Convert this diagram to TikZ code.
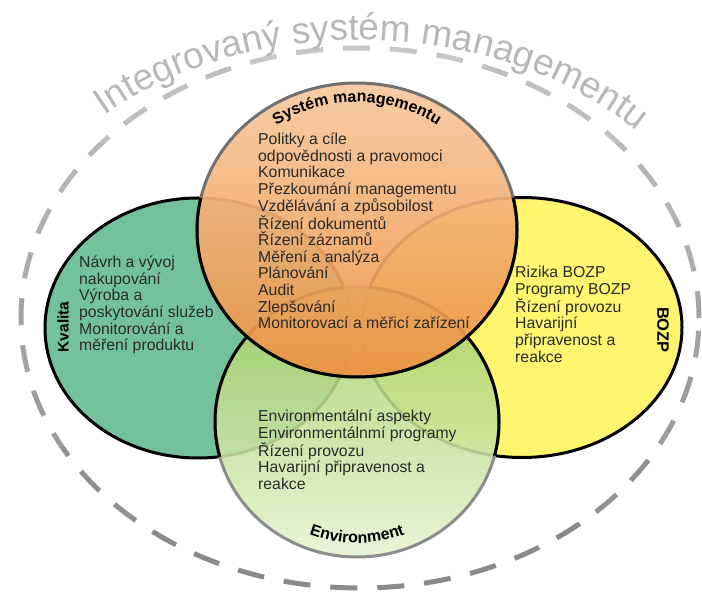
\documentclass[tikz,border=0pt]{standalone}
\usepackage{fontspec}
\setmainfont{Liberation Sans}
\usetikzlibrary{decorations.text}
\definecolor{kvcol}{HTML}{73C29D}
\definecolor{bzcol}{HTML}{FFF56F}
\definecolor{ortop}{HTML}{F6C89E}
\definecolor{ormid}{HTML}{F0A45E}
\definecolor{orbot}{HTML}{EE9140}
\definecolor{envtop}{HTML}{A2CE5E}
\definecolor{envbot}{HTML}{E6F2D2}
\definecolor{txtcol}{HTML}{2B2B2B}
\definecolor{outertxt}{HTML}{B8B8B8}
\definecolor{orgray}{HTML}{707070}
\definecolor{envgray}{HTML}{8C8C8C}
\newcommand\outerfont{\fontsize{37}{37}\selectfont}
\newcommand\arclabelfont{\bfseries\fontsize{16}{16}\selectfont}
\tikzset{
  listtext/.style={anchor=north west, inner sep=0pt, align=left, text=txtcol,
                   font=\fontsize{15.8}{16.6}\selectfont},
  sidelabel/.style={inner sep=0pt, font=\bfseries\fontsize{15.5}{15.5}\selectfont},
  outerdash/.style={line width=5pt, dash pattern=on 27pt off 20pt},
  blackedge/.style={draw=black, line width=3pt},
}
\begin{document}
\begin{tikzpicture}[x=1pt,y=1pt]
\useasboundingbox (0,0) rectangle (702,592);

% outer dashed ellipse, lighter at top, darker at bottom
\foreach \i in {0,...,7} {
  \pgfmathtruncatemacro{\g}{22+\i*3.5}
  \begin{scope}
    \clip (-10,{600-\i*76}) rectangle (712,{600-(\i+1)*76});
    \draw[outerdash, draw=black!\g] (360,274) ellipse [x radius=339pt, y radius=270pt];
  \end{scope}
}

% outer curved title
\path[decorate, decoration={text along path, text align=center, text color=outertxt,
      text={|\outerfont|Integrovaný systém managementu}}]
  (360,274) ++(150:374pt and 278pt) arc[start angle=150, end angle=25, x radius=374pt, y radius=278pt];

% Kvalita and BOZP
\filldraw[fill=kvcol, blackedge] (198,264) ellipse [x radius=153pt, y radius=130pt];
\filldraw[fill=bzcol, blackedge] (522,264.5) ellipse [x radius=160pt, y radius=130pt];

% Environment
\shade[top color=envtop, bottom color=envbot, fill opacity=0.88]
  (357,170) ellipse [x radius=142pt, y radius=135pt];
\draw[draw=envgray, line width=3pt] (357,170) ellipse [x radius=142pt, y radius=135pt];
\begin{scope}
  \clip (198,264) ellipse [x radius=153pt, y radius=130pt]
        (522,264.5) ellipse [x radius=160pt, y radius=130pt];
  \draw[blackedge] (357,170) ellipse [x radius=142pt, y radius=135pt];
\end{scope}

% Systém managementu
\shade[top color=ortop, middle color=ormid, bottom color=orbot, fill opacity=0.92]
  (357,362) ellipse [x radius=160pt, y radius=147pt];
\draw[draw=orgray, line width=3pt] (357,362) ellipse [x radius=160pt, y radius=147pt];
\begin{scope}
  \clip (198,264) ellipse [x radius=153pt, y radius=130pt]
        (522,264.5) ellipse [x radius=160pt, y radius=130pt]
        (357,170) ellipse [x radius=142pt, y radius=135pt];
  \draw[blackedge] (357,362) ellipse [x radius=160pt, y radius=147pt];
\end{scope}

% curved circle titles
\path[decorate, decoration={text along path, text align=center,
      text={|\arclabelfont|Systém managementu}}]
  (357,362) ++(135:140pt and 128pt) arc[start angle=135, end angle=45, x radius=140pt, y radius=128pt];
\path[decorate, decoration={text along path, text align=center,
      text={|\arclabelfont|Environment}}]
  (357,170) ++(230:128pt and 121pt) arc[start angle=230, end angle=310, x radius=128pt, y radius=121pt];

% side labels
\node[sidelabel, rotate=90] (kvlabel) at (63,265) {Kvalita};
\node[sidelabel, rotate=-90, font=\bfseries\fontsize{16.5}{16.5}\selectfont] (bzlabel) at (663,262) {BOZP};

% lists
\node[listtext] (orlist) at (258,459.5) {\rule{0pt}{12pt}Politky a cíle\\
  odpovědnosti a pravomoci\\
  Komunikace\\
  Přezkoumání managementu\\
  Vzdělávání a způsobilost\\
  Řízení dokumentů\\
  Řízení záznamů\\
  Měření a analýza\\
  Plánování\\
  Audit\\
  Zlepšování\\
  Monitorovací a měřicí zařízení};
\node[listtext] (kvlist) at (79,336.5) {\rule{0pt}{12pt}Návrh a vývoj\\
  nakupování\\
  Výroba a\\
  poskytování služeb\\
  Monitorování a\\
  měření produktu};
\node[listtext] (bzlist) at (515,326.5) {\rule{0pt}{12pt}Rizika BOZP\\
  Programy BOZP\\
  Řízení provozu\\
  Havarijní\\
  připravenost a\\
  reakce};
\node[listtext] (envlist) at (258,182.5) {\rule{0pt}{12pt}Environmentální aspekty\\
  Environmentálnmí programy\\
  Řízení provozu\\
  Havarijní připravenost a\\
  reakce};
\end{tikzpicture}
\end{document}
